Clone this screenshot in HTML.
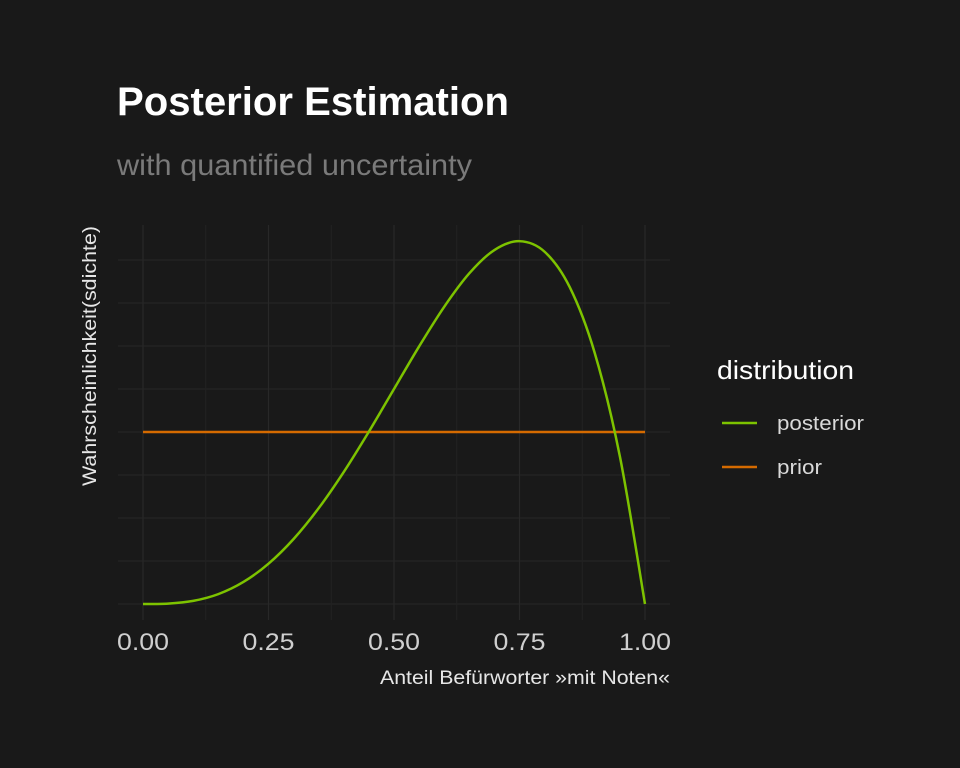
<!DOCTYPE html>
<html><head><meta charset="utf-8"><style>
html,body{margin:0;padding:0;background:#191919;}
svg{display:block;font-family:"Liberation Sans",sans-serif;}
</style></head><body>
<svg id="chart" width="960" height="768" viewBox="0 0 960 768">
<rect width="960" height="768" fill="#191919"/>
<text x="117" y="115" fill="#ffffff" font-size="40" font-weight="bold" textLength="392" lengthAdjust="spacingAndGlyphs">Posterior Estimation</text>
<text x="117" y="175" fill="#7a7a7a" font-size="30" textLength="355" lengthAdjust="spacingAndGlyphs">with quantified uncertainty</text>
<g id="grid"></g>
<g id="xticks"></g>
<g id="series"></g>
<text x="670" y="684" text-anchor="end" fill="#e6e6e6" font-size="19" textLength="290" lengthAdjust="spacingAndGlyphs">Anteil Befürworter »mit Noten«</text>
<text transform="translate(96,356) rotate(-90)" text-anchor="middle" fill="#e6e6e6" font-size="19" textLength="260" lengthAdjust="spacingAndGlyphs">Wahrscheinlichkeit(sdichte)</text>
<text x="717" y="379" fill="#ffffff" font-size="26" textLength="137" lengthAdjust="spacingAndGlyphs">distribution</text>
<g>
<line x1="722" y1="423" x2="757" y2="423" stroke="#7dc300" stroke-width="2.5"/>
<text x="777" y="430" fill="#d9d9d9" font-size="20" textLength="87" lengthAdjust="spacingAndGlyphs">posterior</text>
</g>
<g>
<line x1="722" y1="467" x2="757" y2="467" stroke="#d46a00" stroke-width="2.5"/>
<text x="777" y="474" fill="#d9d9d9" font-size="20" textLength="45" lengthAdjust="spacingAndGlyphs">prior</text>
</g>
</svg>
<script>
const xValues=[0,0.05,0.1,0.15,0.2,0.25,0.3,0.35,0.4,0.45,0.5,0.55,0.6,0.65,0.7,0.75,0.8,0.85,0.9,0.95,1];
const posteriorValues=[0,0.002375,0.018,0.057375,0.128,0.234375,0.378,0.557375,0.768,1.002375,1.25,1.497375,1.728,1.922375,2.058,2.109375,2.048,1.842375,1.458,0.857375,0];
const priorValues=[1,1];
const priorX=[0,1];
const xTickValues=[0,0.25,0.5,0.75,1];
const xTickLabels=["0.00","0.25","0.50","0.75","1.00"];
const yGridValues=[0,0.25,0.5,0.75,1,1.25,1.5,1.75,2];

const NS="http://www.w3.org/2000/svg";
const sx=v=>143+v*502;
const sy=v=>604-v*172;
const plotLeft=118,plotRight=670,plotTop=225,plotBottom=620;
function mk(t,a,p){const e=document.createElementNS(NS,t);for(const k in a)e.setAttribute(k,a[k]);p.appendChild(e);return e;}
const grid=document.getElementById('grid');
yGridValues.forEach(v=>{const l=mk('line',{x1:plotLeft,x2:plotRight,y1:sy(v),y2:sy(v),stroke:'#262626','stroke-width':1},grid);

});
for(let i=0;i<xTickValues.length;i++){
 const v=xTickValues[i];
 const l=mk('line',{x1:sx(v),x2:sx(v),y1:plotTop,y2:plotBottom,stroke:'#282828','stroke-width':1.2},grid);
 
 
 if(i<xTickValues.length-1){const m=(v+xTickValues[i+1])/2;
  const l2=mk('line',{x1:sx(m),x2:sx(m),y1:plotTop,y2:plotBottom,stroke:'#222222','stroke-width':1},grid);
  
  }
 const t=mk('text',{x:sx(v),y:650,'text-anchor':'middle',fill:'#cfcfcf','font-size':24,textLength:52,lengthAdjust:'spacingAndGlyphs'},document.getElementById('xticks'));
 t.textContent=xTickLabels[i];
 
 
}
function path(xs,ys){
 const p=xs.map((x,i)=>[sx(x),sy(ys[i])]);
 let d=`M${p[0][0]},${p[0][1]}`;
 for(let i=0;i<p.length-1;i++){
  const p0=p[Math.max(0,i-1)],p1=p[i],p2=p[i+1],p3=p[Math.min(p.length-1,i+2)];
  const c1=[p1[0]+(p2[0]-p0[0])/6,p1[1]+(p2[1]-p0[1])/6];
  const c2=[p2[0]-(p3[0]-p1[0])/6,p2[1]-(p3[1]-p1[1])/6];
  d+=` C${c1[0]},${c1[1]} ${c2[0]},${c2[1]} ${p2[0]},${p2[1]}`;
 }
 return d;
}
const s=document.getElementById('series');
const pr=mk('path',{d:path(priorX,priorValues),fill:'none',stroke:'#d46a00','stroke-width':2.5},s);


const po=mk('path',{d:path(xValues,posteriorValues),fill:'none',stroke:'#7dc300','stroke-width':2.5},s);


</script>
</body></html>
